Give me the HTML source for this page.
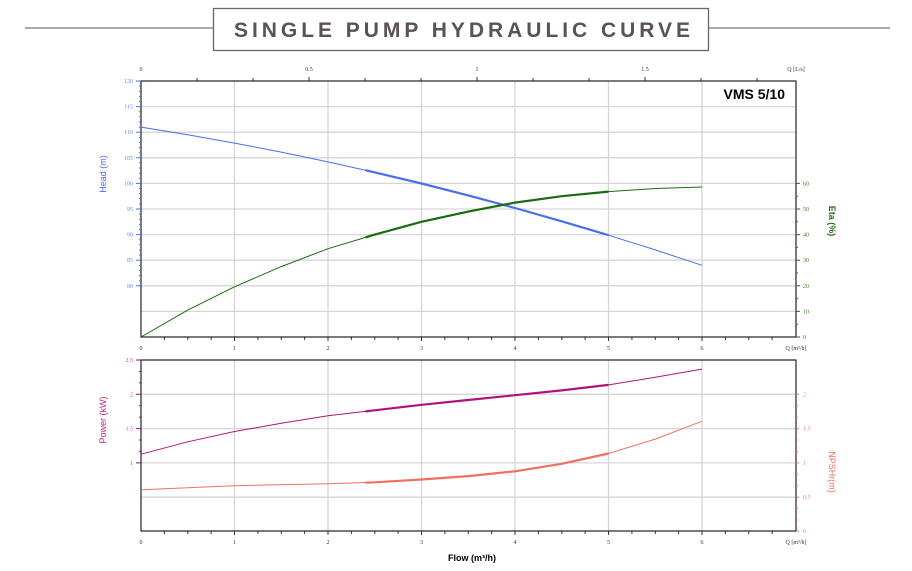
<!DOCTYPE html>
<html><head><meta charset="utf-8"><style>
html,body{margin:0;padding:0;background:#fff;}
svg{display:block;font-family:"Liberation Serif",serif;}
</style></head><body>
<svg width="912" height="571" viewBox="0 0 912 571" xmlns="http://www.w3.org/2000/svg">
<!-- title -->
<line x1="25" y1="28" x2="213" y2="28" stroke="#777" stroke-width="1.2"/>
<line x1="709" y1="28" x2="890" y2="28" stroke="#777" stroke-width="1.2"/>
<rect x="213.5" y="8.5" width="495" height="42" fill="#fff" stroke="#666" stroke-width="1.3"/>
<text x="234" y="37" font-family="Liberation Sans,sans-serif" font-weight="bold" font-size="21" fill="#5a5253" textLength="456" lengthAdjust="spacing">SINGLE PUMP HYDRAULIC CURVE</text>

<!-- TOP CHART -->
<g stroke="#d6d6d6" stroke-width="1.3">
<line x1="234.5" y1="81" x2="234.5" y2="337"/><line x1="328" y1="81" x2="328" y2="337"/><line x1="421.5" y1="81" x2="421.5" y2="337"/><line x1="515" y1="81" x2="515" y2="337"/><line x1="608.5" y1="81" x2="608.5" y2="337"/><line x1="702" y1="81" x2="702" y2="337"/>
<line x1="141" y1="106.6" x2="796" y2="106.6"/><line x1="141" y1="132.2" x2="796" y2="132.2"/><line x1="141" y1="157.8" x2="796" y2="157.8"/><line x1="141" y1="183.4" x2="796" y2="183.4"/><line x1="141" y1="209" x2="796" y2="209"/><line x1="141" y1="234.6" x2="796" y2="234.6"/><line x1="141" y1="260.2" x2="796" y2="260.2"/><line x1="141" y1="285.8" x2="796" y2="285.8"/><line x1="141" y1="311.4" x2="796" y2="311.4"/>
</g>
<rect x="141" y="81" width="655" height="256" fill="none" stroke="#222" stroke-width="1.2"/>
<!-- top axis ticks -->
<g stroke="#333" stroke-width="1">
<line x1="197" y1="78" x2="197" y2="81"/><line x1="253" y1="78" x2="253" y2="81"/><line x1="309" y1="77" x2="309" y2="81"/><line x1="365" y1="78" x2="365" y2="81"/><line x1="421" y1="78" x2="421" y2="81"/><line x1="477" y1="77" x2="477" y2="81"/><line x1="533" y1="78" x2="533" y2="81"/><line x1="589" y1="78" x2="589" y2="81"/><line x1="645" y1="77" x2="645" y2="81"/><line x1="701" y1="78" x2="701" y2="81"/><line x1="757" y1="78" x2="757" y2="81"/>
</g>
<g font-size="6" fill="#333" text-anchor="middle">
<text x="141" y="71">0</text><text x="309" y="71">0.5</text><text x="477" y="71">1</text><text x="645" y="71">1.5</text><text x="796" y="71">Q [L/s]</text>
<text x="141" y="350">0</text><text x="234.5" y="350">1</text><text x="328" y="350">2</text><text x="421.5" y="350">3</text><text x="515" y="350">4</text><text x="608.5" y="350">5</text><text x="702" y="350">6</text><text x="796" y="350">Q [m³/h]</text>
</g>
<!-- bottom ticks top chart -->
<g stroke="#333" stroke-width="1">
<line x1="164.4" y1="337" x2="164.4" y2="340"/><line x1="187.8" y1="337" x2="187.8" y2="340"/><line x1="211.1" y1="337" x2="211.1" y2="340"/><line x1="257.9" y1="337" x2="257.9" y2="340"/><line x1="281.3" y1="337" x2="281.3" y2="340"/><line x1="304.6" y1="337" x2="304.6" y2="340"/><line x1="351.4" y1="337" x2="351.4" y2="340"/><line x1="374.8" y1="337" x2="374.8" y2="340"/><line x1="398.1" y1="337" x2="398.1" y2="340"/><line x1="444.9" y1="337" x2="444.9" y2="340"/><line x1="468.3" y1="337" x2="468.3" y2="340"/><line x1="491.6" y1="337" x2="491.6" y2="340"/><line x1="538.4" y1="337" x2="538.4" y2="340"/><line x1="561.8" y1="337" x2="561.8" y2="340"/><line x1="585.1" y1="337" x2="585.1" y2="340"/><line x1="631.9" y1="337" x2="631.9" y2="340"/><line x1="655.3" y1="337" x2="655.3" y2="340"/><line x1="678.6" y1="337" x2="678.6" y2="340"/><line x1="725.4" y1="337" x2="725.4" y2="340"/><line x1="748.8" y1="337" x2="748.8" y2="340"/><line x1="772.1" y1="337" x2="772.1" y2="340"/>
<line x1="234.5" y1="337" x2="234.5" y2="341"/><line x1="328" y1="337" x2="328" y2="341"/><line x1="421.5" y1="337" x2="421.5" y2="341"/><line x1="515" y1="337" x2="515" y2="341"/><line x1="608.5" y1="337" x2="608.5" y2="341"/><line x1="702" y1="337" x2="702" y2="341"/>
</g>
<!-- left axis labels -->
<g font-size="6" fill="#6a86f0" text-anchor="end">
<text x="133" y="83">120</text><text x="133" y="108.6">115</text><text x="133" y="134.2">110</text><text x="133" y="159.8">105</text><text x="133" y="185.4">100</text><text x="133" y="211">95</text><text x="133" y="236.6">90</text><text x="133" y="262.2">85</text><text x="133" y="287.8">80</text>
</g>
<g stroke="#4a6fe8" stroke-width="1">
<line x1="136" y1="81" x2="141" y2="81"/><line x1="136" y1="106.6" x2="141" y2="106.6"/><line x1="136" y1="132.2" x2="141" y2="132.2"/><line x1="136" y1="157.8" x2="141" y2="157.8"/><line x1="136" y1="183.4" x2="141" y2="183.4"/><line x1="136" y1="209" x2="141" y2="209"/><line x1="136" y1="234.6" x2="141" y2="234.6"/><line x1="136" y1="260.2" x2="141" y2="260.2"/><line x1="136" y1="285.8" x2="141" y2="285.8"/>
</g>
<path d="M141,86.1h-2M141,91.2h-2M141,96.4h-2M141,101.5h-2M141,111.7h-2M141,116.8h-2M141,122h-2M141,127.1h-2M141,137.3h-2M141,142.4h-2M141,147.6h-2M141,152.7h-2M141,162.9h-2M141,168h-2M141,173.2h-2M141,178.3h-2M141,188.5h-2M141,193.6h-2M141,198.8h-2M141,203.9h-2M141,214.1h-2M141,219.2h-2M141,224.4h-2M141,229.5h-2M141,239.7h-2M141,244.8h-2M141,250h-2M141,255.1h-2M141,265.3h-2M141,270.4h-2M141,275.6h-2M141,280.7h-2" stroke="#4a6fe8" stroke-width="1"/>
<text transform="translate(106,174) rotate(-90)" font-family="Liberation Sans,sans-serif" font-size="9" fill="#4a6fe8" text-anchor="middle">Head (m)</text>
<!-- right eta axis -->
<g font-size="6" fill="#3a7a2a">
<text x="803" y="185.4">60</text><text x="803" y="211">50</text><text x="803" y="236.6">40</text><text x="803" y="262.2">30</text><text x="803" y="287.8">20</text><text x="803" y="313.4">10</text><text x="803" y="339">0</text>
</g>
<path d="M796,183.4h4M796,209h4M796,234.6h4M796,260.2h4M796,285.8h4M796,311.4h4M796,337h4M796,196.2h2M796,221.8h2M796,247.4h2M796,273h2M796,298.6h2M796,324.2h2" stroke="#2a6a1a" stroke-width="1"/>
<text transform="translate(829,221) rotate(90)" font-family="Liberation Sans,sans-serif" font-weight="bold" font-size="9" fill="#2a6a1a" text-anchor="middle">Eta (%)</text>
<text x="785" y="99" font-family="Liberation Sans,sans-serif" font-weight="bold" font-size="14" fill="#000" text-anchor="end">VMS 5/10</text>
<!-- curves top -->
<polyline fill="none" stroke="#4a6fe8" stroke-width="1" points="141,127.1 187.75,134.7 234.5,143.1 281.25,152.1 328,161.9 374.75,172.4 421.5,183.5 468.25,195.4 515,208 561.75,221.3 608.5,235.2 655.25,249.9 702,265.3"/>
<polyline fill="none" stroke="#4a6fe8" stroke-width="2.2" points="365.4,170.2 374.75,172.4 421.5,183.5 468.25,195.4 515,208 561.75,221.3 608.5,235.2"/>
<polyline fill="none" stroke="#1a6b0f" stroke-width="1" points="141,337 187.75,310.1 234.5,286.8 281.25,266.6 328,248.7 374.75,234.6 421.5,221.8 468.25,211.6 515,202.6 561.75,196.2 608.5,191.6 655.25,188.5 702,187"/>
<polyline fill="none" stroke="#1a6b0f" stroke-width="2.2" points="365.4,237.4 374.75,234.6 421.5,221.8 468.25,211.6 515,202.6 561.75,196.2 608.5,191.6"/>

<!-- BOTTOM CHART -->
<g stroke="#d6d6d6" stroke-width="1.3">
<line x1="234.5" y1="360" x2="234.5" y2="531"/><line x1="328" y1="360" x2="328" y2="531"/><line x1="421.5" y1="360" x2="421.5" y2="531"/><line x1="515" y1="360" x2="515" y2="531"/><line x1="608.5" y1="360" x2="608.5" y2="531"/><line x1="702" y1="360" x2="702" y2="531"/>
<line x1="141" y1="394.3" x2="796" y2="394.3"/><line x1="141" y1="428.6" x2="796" y2="428.6"/><line x1="141" y1="462.9" x2="796" y2="462.9"/><line x1="141" y1="497.2" x2="796" y2="497.2"/>
</g>
<rect x="141" y="360" width="655" height="171" fill="none" stroke="#222" stroke-width="1.2"/>
<g stroke="#333" stroke-width="1">
<line x1="164.4" y1="531" x2="164.4" y2="534"/><line x1="187.8" y1="531" x2="187.8" y2="534"/><line x1="211.1" y1="531" x2="211.1" y2="534"/><line x1="257.9" y1="531" x2="257.9" y2="534"/><line x1="281.3" y1="531" x2="281.3" y2="534"/><line x1="304.6" y1="531" x2="304.6" y2="534"/><line x1="351.4" y1="531" x2="351.4" y2="534"/><line x1="374.8" y1="531" x2="374.8" y2="534"/><line x1="398.1" y1="531" x2="398.1" y2="534"/><line x1="444.9" y1="531" x2="444.9" y2="534"/><line x1="468.3" y1="531" x2="468.3" y2="534"/><line x1="491.6" y1="531" x2="491.6" y2="534"/><line x1="538.4" y1="531" x2="538.4" y2="534"/><line x1="561.8" y1="531" x2="561.8" y2="534"/><line x1="585.1" y1="531" x2="585.1" y2="534"/><line x1="631.9" y1="531" x2="631.9" y2="534"/><line x1="655.3" y1="531" x2="655.3" y2="534"/><line x1="678.6" y1="531" x2="678.6" y2="534"/><line x1="725.4" y1="531" x2="725.4" y2="534"/><line x1="748.8" y1="531" x2="748.8" y2="534"/><line x1="772.1" y1="531" x2="772.1" y2="534"/>
<line x1="234.5" y1="531" x2="234.5" y2="535"/><line x1="328" y1="531" x2="328" y2="535"/><line x1="421.5" y1="531" x2="421.5" y2="535"/><line x1="515" y1="531" x2="515" y2="535"/><line x1="608.5" y1="531" x2="608.5" y2="535"/><line x1="702" y1="531" x2="702" y2="535"/>
</g>
<g font-size="6" fill="#333" text-anchor="middle">
<text x="141" y="544">0</text><text x="234.5" y="544">1</text><text x="328" y="544">2</text><text x="421.5" y="544">3</text><text x="515" y="544">4</text><text x="608.5" y="544">5</text><text x="702" y="544">6</text><text x="796" y="544">Q [m³/h]</text>
</g>
<text x="472" y="561" font-family="Liberation Sans,sans-serif" font-weight="bold" font-size="9" fill="#000" text-anchor="middle">Flow (m³/h)</text>
<g font-size="6" fill="#d040a0" text-anchor="end">
<text x="133" y="362">2.5</text><text x="133" y="396.3">2</text><text x="133" y="430.6">1.5</text><text x="133" y="464.9">1</text>
</g>
<path d="M141,360h-5M141,394.3h-5M141,428.6h-5M141,462.9h-5M141,371.4h-2M141,382.9h-2M141,405.7h-2M141,417.1h-2M141,440h-2M141,451.4h-2" stroke="#8a1a6a" stroke-width="1"/>
<text transform="translate(106,420) rotate(-90)" font-family="Liberation Sans,sans-serif" font-size="9" fill="#c0188a" text-anchor="middle">Power (kW)</text>
<g font-size="6" fill="#f08070">
<text x="803" y="396.3">2</text><text x="803" y="430.6">1.5</text><text x="803" y="464.9">1</text><text x="803" y="499.2">0.5</text><text x="803" y="533">0</text>
</g>
<path d="M796,394.3h3M796,428.6h3M796,462.9h3M796,497.2h3M796,531h3M796,405.7h2M796,417.1h2M796,440h2M796,451.4h2M796,474.3h2M796,485.7h2M796,508.6h2M796,520h2" stroke="#f07060" stroke-width="1"/>
<text transform="translate(829,472) rotate(90)" font-family="Liberation Sans,sans-serif" font-size="9" fill="#f07060" text-anchor="middle">NPSHr(m)</text>
<!-- curves bottom -->
<polyline fill="none" stroke="#b0147c" stroke-width="1" points="141,454.2 187.75,441.8 234.5,431.5 281.25,423.3 328,415.8 374.75,410.3 421.5,404.8 468.25,400 515,395.2 561.75,390.4 608.5,384.9 655.25,377.3 702,369.1"/>
<polyline fill="none" stroke="#b0147c" stroke-width="2.2" points="365.4,411.4 374.75,410.3 421.5,404.8 468.25,400 515,395.2 561.75,390.4 608.5,384.9"/>
<polyline fill="none" stroke="#f07060" stroke-width="1" points="141,489.8 234.5,485.7 328,483.7 374.75,482.3 421.5,479.5 468.25,476.1 515,471.3 561.75,463.8 608.5,453.5 655.25,439.1 702,421.2"/>
<polyline fill="none" stroke="#f07060" stroke-width="2.2" points="365.4,482.6 374.75,482.3 421.5,479.5 468.25,476.1 515,471.3 561.75,463.8 608.5,453.5"/>
</svg>
</body></html>
